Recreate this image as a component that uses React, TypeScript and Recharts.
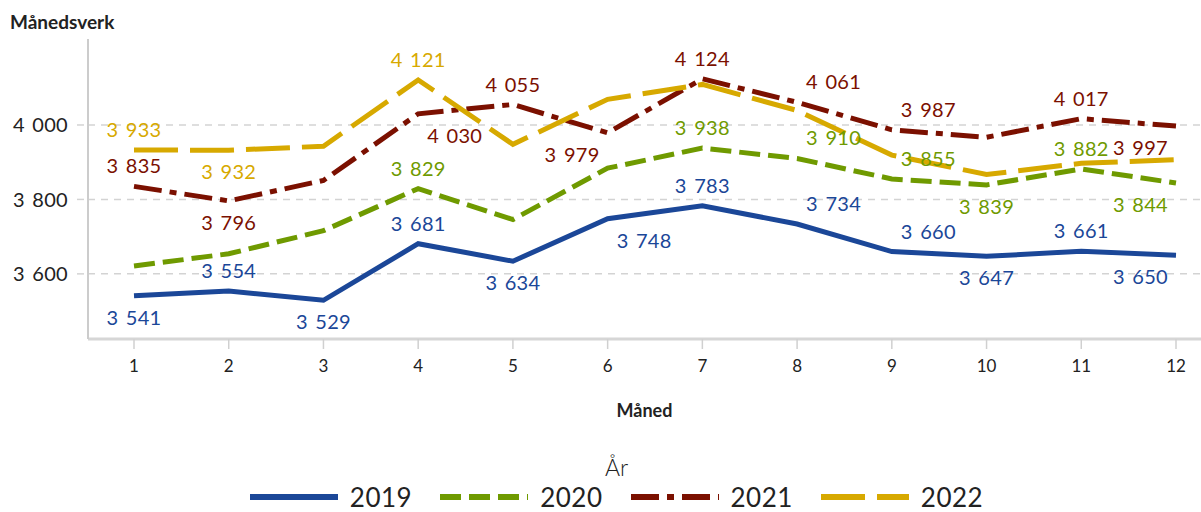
import React from 'react';
import { LineChart, Line, XAxis, YAxis, ReferenceLine, LabelList } from 'recharts';

const months = ['1', '2', '3', '4', '5', '6', '7', '8', '9', '10', '11', '12'];
const v2019 = [3541, 3554, 3529, 3681, 3634, 3748, 3783, 3734, 3660, 3647, 3661, 3650];
const v2020 = [3621, 3654, 3716, 3829, 3746, 3884, 3938, 3910, 3855, 3839, 3882, 3844];
const v2021 = [3835, 3796, 3851, 4030, 4055, 3979, 4124, 4061, 3987, 3967, 4017, 3997];
const v2022 = [3933, 3932, 3943, 4121, 3948, 4069, 4109, 4039, 3919, 3867, 3897, 3907];
const yTicks = [3600, 3800, 4000];

// label placement around the point (compass direction), '' = no label
const lbl2019 = ['S', 'N', 'S', 'N', 'S', 'SE', 'N', 'NE', 'NE', 'S', 'N', 'SW'];
const lbl2020 = ['', '', '', 'N', '', '', 'N', 'NE', 'NE', 'S', 'N', 'SW'];
const lbl2021 = ['N', 'S', '', 'SE', 'N', 'SW', 'N', 'NE', 'NE', '', 'N', 'SW'];
const lbl2022 = ['N', 'S', '', 'N', '', '', '', '', '', '', '', ''];

const seriesNames = ['2019', '2020', '2021', '2022'];
const seriesColors = ['#1b4798', '#6f9a00', '#7b1000', '#d7a900'];
const seriesDash = ['', '21 8', '28 8 7 8', '44 12'];
const seriesLabels = [lbl2019, lbl2020, lbl2021, lbl2022];

const data = months.map((m, i) => ({
  month: m,
  y2019: v2019[i],
  y2020: v2020[i],
  y2021: v2021[i],
  y2022: v2022[i],
}));

const fmt = (v: number) => {
  const s = String(Math.round(v));
  return s.replace(/\B(?=(\d{3})+(?!\d))/g, ' ');
};

const FONT = 'Lato, "Noto Sans", sans-serif';

const makeLabel = (placements: string[], color: string) => (p: any) => {
  const idx = p.index;
  const pos = placements[idx];
  if (!pos) return null;
  const x = Number(p.x);
  const y = Number(p.y);
  let ty = y;
  if (pos.includes('N')) ty = y - 21;
  if (pos.includes('S')) ty = y + 21;
  let tx = x;
  let anchor: 'start' | 'middle' | 'end' = 'middle';
  if (pos.includes('E')) {
    tx = x + 9;
    anchor = 'start';
  } else if (pos.includes('W')) {
    tx = x - 8;
    anchor = 'end';
  }
  return (
    <text
      x={tx}
      y={ty}
      textAnchor={anchor}
      dominantBaseline="central"
      fill={color}
      fontSize={20}
      fontFamily={FONT}
      style={{ wordSpacing: 2, letterSpacing: 0.3 }}
    >
      {fmt(p.value)}
    </text>
  );
};

export default function App() {
  return (
    <div
      style={{
        position: 'absolute',
        left: 0,
        top: 0,
        width: 1201,
        height: 512,
        background: '#fff',
        fontFamily: FONT,
        overflow: 'hidden',
      }}
    >
      <div
        style={{
          position: 'absolute',
          left: 10,
          top: 10,
          fontSize: 19,
          fontWeight: 700,
          color: '#222',
          lineHeight: '24px',
        }}
      >
        Månedsverk
      </div>
      <LineChart
        width={1201}
        height={512}
        data={data}
        margin={{ top: 39, right: 0, bottom: 113, left: 0 }}
      >
        {yTicks.map((t) => (
          <ReferenceLine
            key={t}
            y={t}
            stroke="#d3d3d3"
            strokeWidth={1.5}
            strokeDasharray="7 6"
            ifOverflow="hidden"
          />
        ))}
        <XAxis
          dataKey="month"
          type="category"
          height={60}
          padding={{ left: 46, right: 25 }}
          axisLine={{ stroke: '#d6d6d6', strokeWidth: 3 }}
          tickLine={{ stroke: '#d0d0d0', strokeWidth: 1.5 }}
          tickSize={10}
          tickMargin={11}
          tick={{ fill: '#222', fontSize: 17, fontFamily: FONT }}
        />
        <YAxis
          width={88}
          domain={[3425, 4231]}
          ticks={yTicks}
          allowDataOverflow
          axisLine={{ stroke: '#cccccc', strokeWidth: 2 }}
          tickLine={{ stroke: '#d3d3d3', strokeWidth: 1.5, strokeDasharray: '7 6' }}
          tickSize={11}
          tickMargin={9}
          tickFormatter={(v: number) => fmt(v)}
          tick={{ fill: '#222', fontSize: 20, fontFamily: FONT, style: { wordSpacing: 2, letterSpacing: 0.3 } }}
        />
        {seriesNames.map((name, si) => (
          <Line
            key={name}
            dataKey={'y' + name}
            name={name}
            type="linear"
            stroke={seriesColors[si]}
            strokeWidth={5}
            strokeDasharray={seriesDash[si] || undefined}
            dot={false}
            activeDot={false}
            isAnimationActive={false}
          >
            <LabelList
              dataKey={'y' + name}
              content={makeLabel(seriesLabels[si], seriesColors[si])}
            />
          </Line>
        ))}
      </LineChart>
      <div
        style={{
          position: 'absolute',
          left: 88,
          width: 1113,
          top: 398,
          textAlign: 'center',
          fontSize: 18,
          fontWeight: 700,
          color: '#222',
          lineHeight: '24px',
        }}
      >
        Måned
      </div>
      <div
        style={{
          position: 'absolute',
          left: 0,
          width: 1233,
          top: 453,
          textAlign: 'center',
          fontSize: 23,
          fontWeight: 300,
          color: '#222',
          lineHeight: '28px',
        }}
      >
        År
      </div>
      <div
        style={{
          position: 'absolute',
          left: 0,
          width: 1233,
          top: 482,
          display: 'flex',
          justifyContent: 'center',
          alignItems: 'center',
          fontSize: 26,
          fontWeight: 400,
          letterSpacing: 0.5,
          color: '#222',
          lineHeight: '30px',
        }}
      >
        {seriesNames.map((name, si) => (
          <div
            key={name}
            style={{ display: 'flex', alignItems: 'center', marginRight: si < 3 ? 28 : 0 }}
          >
            <svg width={88} height={8} style={{ marginRight: 12 }}>
              <line
                x1={0}
                y1={4}
                x2={88}
                y2={4}
                stroke={seriesColors[si]}
                strokeWidth={6}
                strokeDasharray={seriesDash[si] || undefined}
              />
            </svg>
            <span>{name}</span>
          </div>
        ))}
      </div>
    </div>
  );
}
